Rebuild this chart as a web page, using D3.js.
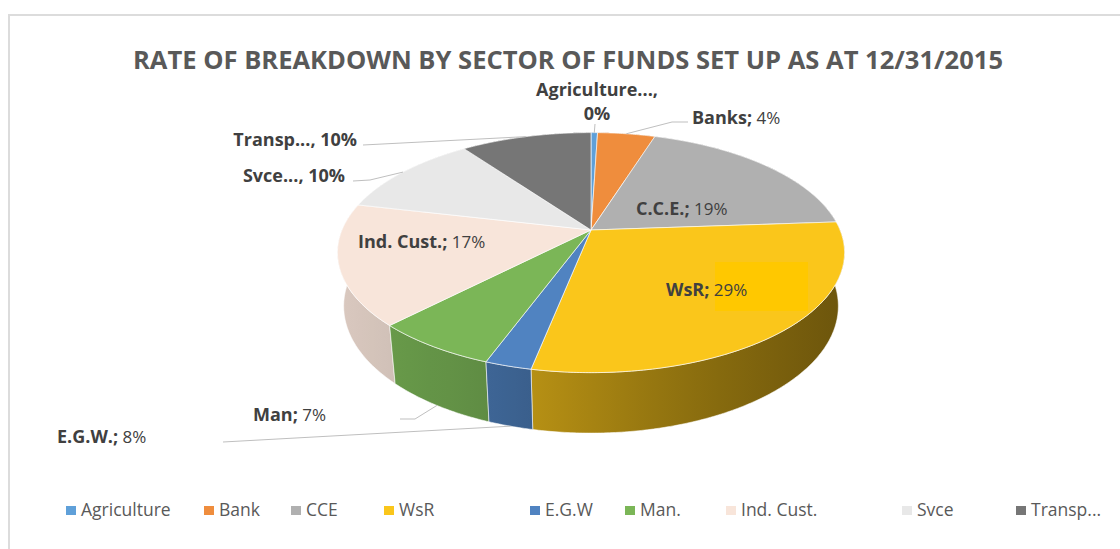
<!DOCTYPE html>
<html>
<head>
<meta charset="utf-8">
<script src="https://cdn.jsdelivr.net/npm/d3@7"></script>
<style>
  body { margin: 0; background: #fff; }
  svg { display: block; font-family: "Open Sans", sans-serif; }
</style>
</head>
<body>
<script>
// data
const sectors = ["Agriculture", "Bank", "CCE", "WsR", "E.G.W", "Man.", "Ind. Cust.", "Svce", "Transp..."];
const shares = [0.5, 4.4, 19, 29.3, 2.5, 6.7, 16.3, 11.4, 10];
const labelNames = ["Agriculture...,", "Banks;", "C.C.E.;", "WsR;", "E.G.W.;", "Man;", "Ind. Cust.;", "Svce...,", "Transp...,"];
const labelPcts = ["0%", "4%", "19%", "29%", "8%", "7%", "17%", "10%", "10%"];

const colors = ["#5FA0D9", "#EF8D3D", "#B0B0B0", "#FAC61B", "#5083C1", "#7BB657", "#F8E5DA", "#E8E8E8", "#767676"];
const legendX = [66, 204, 291, 384, 530, 625, 726, 902, 1016];

const W = 1120, H = 549;
const svg = d3.select("body").append("svg")
  .attr("width", W)
  .attr("height", H);

// frame
svg.append("rect")
  .attr("x", 9).attr("y", 15)
  .attr("width", W + 20).attr("height", H + 20)
  .attr("fill", "none")
  .attr("stroke", "#DCDCDC")
  .attr("stroke-width", 2);

svg.append("text")
  .attr("x", 568).attr("y", 69)
  .attr("text-anchor", "middle")
  .attr("font-size", 25)
  .attr("font-weight", "bold")
  .attr("fill", "#595959")
  .attr("textLength", 870)
  .attr("lengthAdjust", "spacingAndGlyphs")
  .text("RATE OF BREAKDOWN BY SECTOR OF FUNDS SET UP AS AT 12/31/2015");

// simple perspective projection of a tilted disk
const cx = 591, cy = 230, K = 249, D = 4.70, tilt = 27.7 * Math.PI / 180, thick = 0.245;
const sa = Math.sin(tilt), ca = Math.cos(tilt);
function proj(a, r, h) {
  const X = r * Math.sin(a), Y = -r * Math.cos(a);
  const v = -Y * sa + h * ca;
  const w = D - Y * ca - h * sa;
  return [cx + K * D * X / w, cy - K * D * v / w];
}
function rim(a0, a1, h) {
  const n = Math.max(2, Math.ceil(Math.abs(a1 - a0) / 0.01));
  return d3.range(n + 1).map(i => proj(a0 + (a1 - a0) * i / n, 1, h));
}

const arcs = d3.pie().sort(null).value(d => d)(shares);
const line = d3.line().curve(d3.curveLinearClosed);

const shade = d3.scaleLinear()
  .domain([335, 480, 540, 700, 845])
  .range([0.88, 0.78, 0.72, 0.55, 0.43])
  .clamp(true);

const defs = svg.append("defs");
const pie = svg.append("g");

// outer walls, back to front
const walls = arcs.map((d, i) => ({d, i}))
  .sort((p, q) => -Math.cos((p.d.startAngle + p.d.endAngle) / 2) + Math.cos((q.d.startAngle + q.d.endAngle) / 2));

walls.forEach(({d, i}) => {
  const pts = rim(d.startAngle, d.endAngle, 0).concat(rim(d.endAngle, d.startAngle, -thick));
  const xs = pts.map(p => p[0]);
  const x0 = d3.min(xs), x1 = d3.max(xs);
  const base = d3.rgb(colors[i]);
  const g = defs.append("linearGradient")
    .attr("id", "wall" + i)
    .attr("gradientUnits", "userSpaceOnUse")
    .attr("x1", x0).attr("x2", x1 + 0.01)
    .attr("y1", 0).attr("y2", 0);
  d3.range(6).forEach(s => {
    const x = x0 + (x1 - x0) * s / 5, f = shade(x);
    g.append("stop")
      .attr("offset", s / 5)
      .attr("stop-color", d3.rgb(base.r * f, base.g * f, base.b * f));
  });
  pie.append("path")
    .attr("d", line(pts))
    .attr("fill", `url(#wall${i})`)
    .attr("stroke", "#fff")
    .attr("stroke-width", 0.8)
    .attr("stroke-opacity", 0.7);
});

// top faces
arcs.forEach((d, i) => {
  const pts = [proj(0, 0, 0)].concat(rim(d.startAngle, d.endAngle, 0));
  pie.append("path")
    .attr("d", line(pts))
    .attr("fill", colors[i])
    .attr("stroke", "#fff")
    .attr("stroke-width", 0.8)
    .attr("stroke-opacity", 0.8);
});

// slightly brighter box behind the WsR value
svg.append("rect")
  .attr("x", 715).attr("y", 262)
  .attr("width", 93).attr("height", 49)
  .attr("fill", "#FFC800");

// leader lines
const mid = d => (d.startAngle + d.endAngle) / 2;
const leaders = [
  [[595, 124], proj(mid(arcs[0]), 1, 0)],
  [[688, 122], [672, 122], proj(mid(arcs[1]), 1, 0)],
  [[223, 442], proj(mid(arcs[4]), 1, -thick)],
  [[400, 419], [415, 419], proj(mid(arcs[5]), 1, -thick)],
  [[353, 181], [370, 180], proj(mid(arcs[7]), 1, 0)],
  [[363, 145], proj(mid(arcs[8]), 1, 0)]
];
svg.selectAll(".leader")
  .data(leaders)
  .enter()
  .append("path")
  .attr("class", "leader")
  .attr("d", d3.line())
  .attr("fill", "none")
  .attr("stroke", "#BFBFBF")
  .attr("stroke-width", 1);

// data labels
const labelPos = [
  {x: 597, y: 96, anchor: "middle"},
  {x: 692, y: 124, anchor: "start"},
  {x: 636, y: 215, anchor: "start"},
  {x: 666, y: 296, anchor: "start"},
  {x: 57, y: 443, anchor: "start"},
  {x: 253, y: 421, anchor: "start"},
  {x: 358, y: 248, anchor: "start"},
  {x: 345, y: 182, anchor: "end"},
  {x: 357, y: 146, anchor: "end"}
];
const labels = svg.append("g")
  .attr("font-size", 18)
  .attr("fill", "#404040");

labelNames.forEach((name, i) => {
  const p = labelPos[i];
  const t = labels.append("text")
    .attr("x", p.x).attr("y", p.y)
    .attr("text-anchor", p.anchor);
  if (i === 0) {
    t.attr("font-weight", "bold").text(name);
    labels.append("text")
      .attr("x", p.x).attr("y", p.y + 24)
      .attr("text-anchor", "middle")
      .attr("font-weight", "bold")
      .text(labelPcts[i]);
  } else if (i >= 7) {
    t.attr("font-weight", "bold").text(name + " " + labelPcts[i]);
  } else {
    t.append("tspan").attr("font-weight", "bold").text(name);
    t.append("tspan").attr("font-size", 17).text(" " + labelPcts[i]);
  }
});

// legend
const legend = svg.append("g")
  .selectAll("g")
  .data(sectors)
  .enter()
  .append("g")
  .attr("transform", (d, i) => `translate(${legendX[i]},506)`);

legend.append("rect")
  .attr("width", 10).attr("height", 9)
  .attr("fill", (d, i) => colors[i]);

legend.append("text")
  .attr("x", 15).attr("y", 3.5)
  .attr("dy", "0.35em")
  .attr("font-size", 17.5)
  .attr("fill", "#595959")
  .text(d => d);
</script>
</body>
</html>
